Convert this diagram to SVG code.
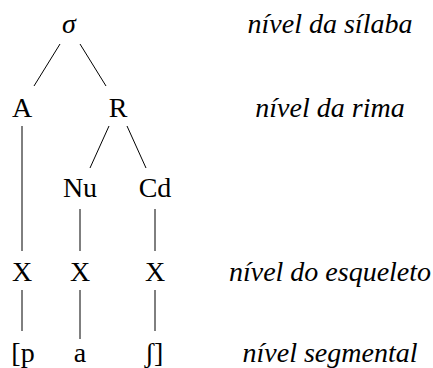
<svg xmlns="http://www.w3.org/2000/svg" width="433" height="368" viewBox="0 0 433 368">
<style>
text{font-family:"Liberation Serif","DejaVu Serif",serif;font-size:28px;fill:#000;text-anchor:middle}
.it{font-style:italic}
#connectors line{stroke:#000;stroke-width:1}
</style>
<rect width="433" height="368" fill="#fff"/>
<g id="connectors">
<line x1="60" y1="44" x2="34" y2="86"/>
<line x1="80" y1="44" x2="106" y2="86"/>
<line x1="22" y1="126" x2="22" y2="251"/>
<line x1="109" y1="126" x2="90" y2="168"/>
<line x1="127" y1="126" x2="146" y2="168"/>
<line x1="80" y1="209" x2="80" y2="251"/>
<line x1="155" y1="209" x2="155" y2="251"/>
<line x1="22" y1="290" x2="22" y2="331"/>
<line x1="80" y1="290" x2="80" y2="339"/>
<line x1="155" y1="290" x2="155" y2="331"/>
</g>
<g id="sigma"><text class="it" x="69" y="33">σ</text></g>
<g id="A"><text x="22" y="117">A</text></g>
<g id="R"><text x="118" y="117">R</text></g>
<g id="Nu"><text x="80" y="197">Nu</text></g>
<g id="Cd"><text x="155" y="197">Cd</text></g>
<g id="X1"><text x="22" y="281">X</text></g>
<g id="X2"><text x="80" y="281">X</text></g>
<g id="X3"><text x="155" y="281">X</text></g>
<g id="p"><text x="23" y="362">[p</text></g>
<g id="a"><text x="80" y="362">a</text></g>
<g id="sh"><text x="154" y="362">ʃ]</text></g>
<g id="labels">
<text class="it" x="330" y="33">nível da sílaba</text>
<text class="it" x="330" y="117">nível da rima</text>
<text class="it" x="330" y="281">nível do esqueleto</text>
<text class="it" x="330" y="362">nível segmental</text>
</g>
</svg>
